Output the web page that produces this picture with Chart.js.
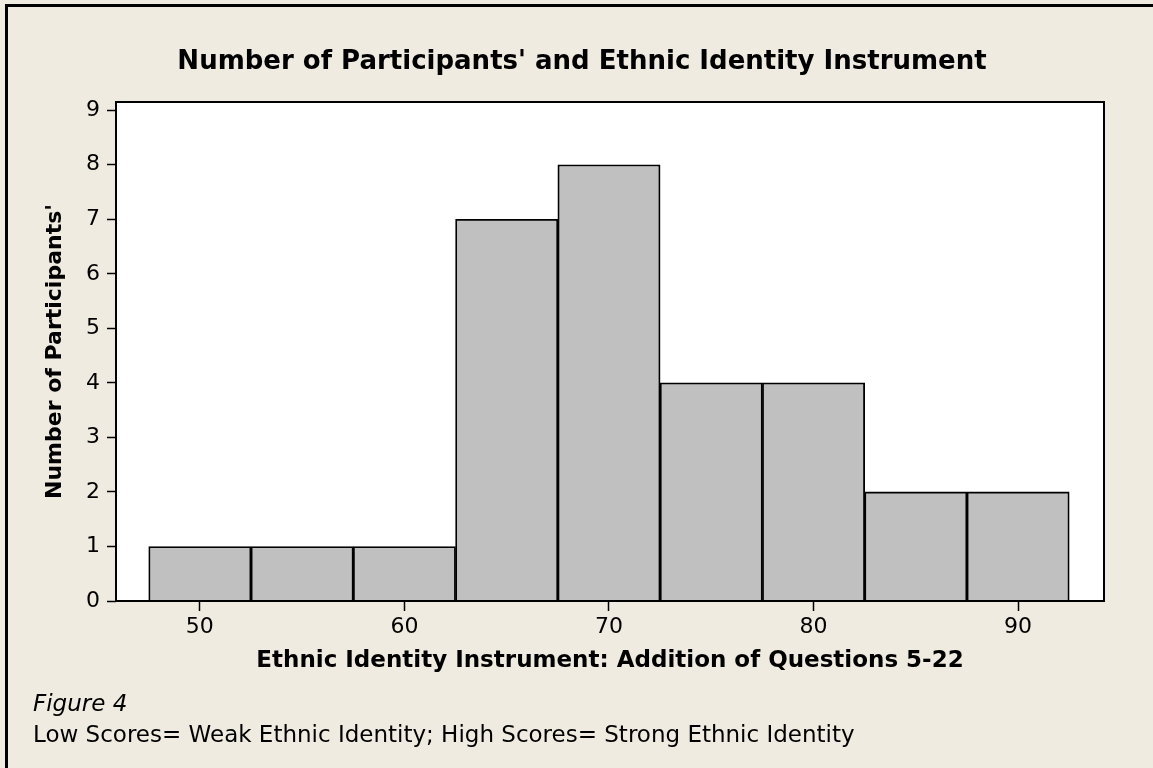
<!DOCTYPE html>
<html lang="en">
<head>
    <meta charset="UTF-8" />
    <title>Number of Participants' and Ethnic Identity Instrument</title>
    <script src="https://cdn.jsdelivr.net/npm/chart.js"></script>
    <style>
        html, body { margin: 0; padding: 0; background: #EFEBE0; }
        #wrap { width: 1153px; height: 768px; position: relative; }
    </style>
</head>
<body>
<div id="wrap"><canvas id="histChart"></canvas></div>

<script>
    // bin midpoints (width 5) and counts
    const binMids = [50, 55, 60, 65, 70, 75, 80, 85, 90];
    const counts = [1, 1, 1, 7, 8, 4, 4, 2, 2];
    const xTicks = [50, 60, 70, 80, 90];
    const yTicks = [0, 1, 2, 3, 4, 5, 6, 7, 8, 9];

    const FONT = "'DejaVu Sans', Verdana, sans-serif";

    // background, outer frame, plot box, title and caption lines
    const framePlugin = {
        id: 'frame',
        beforeDraw(chart) {
            const c = chart.ctx;
            c.save();
            c.fillStyle = '#EFEBE0';
            c.fillRect(0, 0, chart.width, chart.height);
            const a = chart.chartArea;
            c.fillStyle = '#FFFFFF';
            c.fillRect(a.left, a.top, a.right - a.left, a.bottom - a.top);
            c.strokeStyle = '#000';
            c.lineWidth = 3;
            c.beginPath();
            c.moveTo(6.5, chart.height + 5);
            c.lineTo(6.5, 5.5);
            c.lineTo(chart.width + 5, 5.5);
            c.stroke();
            c.restore();
        },
        afterDraw(chart) {
            const c = chart.ctx;
            const a = chart.chartArea;
            c.save();
            c.strokeStyle = '#000';
            c.lineWidth = 2;
            c.strokeRect(a.left, a.top, a.right - a.left, a.bottom - a.top);
            c.fillStyle = '#000';
            c.textBaseline = 'middle';
            c.textAlign = 'center';
            c.font = 'bold 26px ' + FONT;
            c.fillText("Number of Participants' and Ethnic Identity Instrument", 582, 62);
            c.textAlign = 'left';
            c.font = 'italic 23px ' + FONT;
            c.fillText('Figure 4', 33, 705);
            c.font = '23px ' + FONT;
            c.fillText('Low Scores= Weak Ethnic Identity; High Scores= Strong Ethnic Identity', 33, 736);
            c.restore();
        }
    };

    const ctx = document.getElementById('histChart').getContext('2d');
    const chart = new Chart(ctx, {
        type: 'bar',
        data: {
            datasets: [{
                data: binMids.map((m, i) => ({ x: m, y: counts[i] })),
                backgroundColor: '#C0C0C0',
                borderColor: '#000000',
                borderWidth: 1.8,
                barPercentage: 1,
                categoryPercentage: 1
            }]
        },
        options: {
            responsive: true,
            maintainAspectRatio: false,
            animation: false,
            layout: { padding: { top: 102, left: 20, right: 49, bottom: 92 } },
            plugins: {
                legend: { display: false },
                tooltip: { enabled: false },
                title: { display: false }
            },
            scales: {
                x: {
                    type: 'linear',
                    offset: false,
                    min: 45.9,
                    max: 94.2,
                    afterBuildTicks: s => { s.ticks = xTicks.map(v => ({ value: v })); },
                    afterFit: s => { s.height = 75; },
                    grid: { offset: false, drawOnChartArea: false, color: '#000', tickLength: 10, tickWidth: 1.5 },
                    border: { display: false },
                    ticks: { color: '#000', font: { family: FONT, size: 22 }, padding: 3, maxRotation: 0 },
                    title: {
                        display: true,
                        text: 'Ethnic Identity Instrument: Addition of Questions 5-22',
                        color: '#000',
                        font: { family: FONT, size: 23, weight: 'bold' },
                        padding: { top: 2, bottom: 1 }
                    }
                },
                y: {
                    min: 0,
                    max: 9.15,
                    afterBuildTicks: s => { s.ticks = yTicks.map(v => ({ value: v })); },
                    afterFit: s => { s.width = 96; },
                    grid: { drawOnChartArea: false, color: '#000', tickLength: 9, tickWidth: 1.5 },
                    border: { display: false },
                    ticks: { color: '#000', font: { family: FONT, size: 22 }, padding: 7 },
                    title: {
                        display: true,
                        text: "Number of Participants'",
                        color: '#000',
                        font: { family: FONT, size: 22, weight: 'bold' },
                        padding: { top: 22, bottom: 0 }
                    }
                }
            }
        },
        plugins: [framePlugin]
    });
</script>
</body>
</html>
